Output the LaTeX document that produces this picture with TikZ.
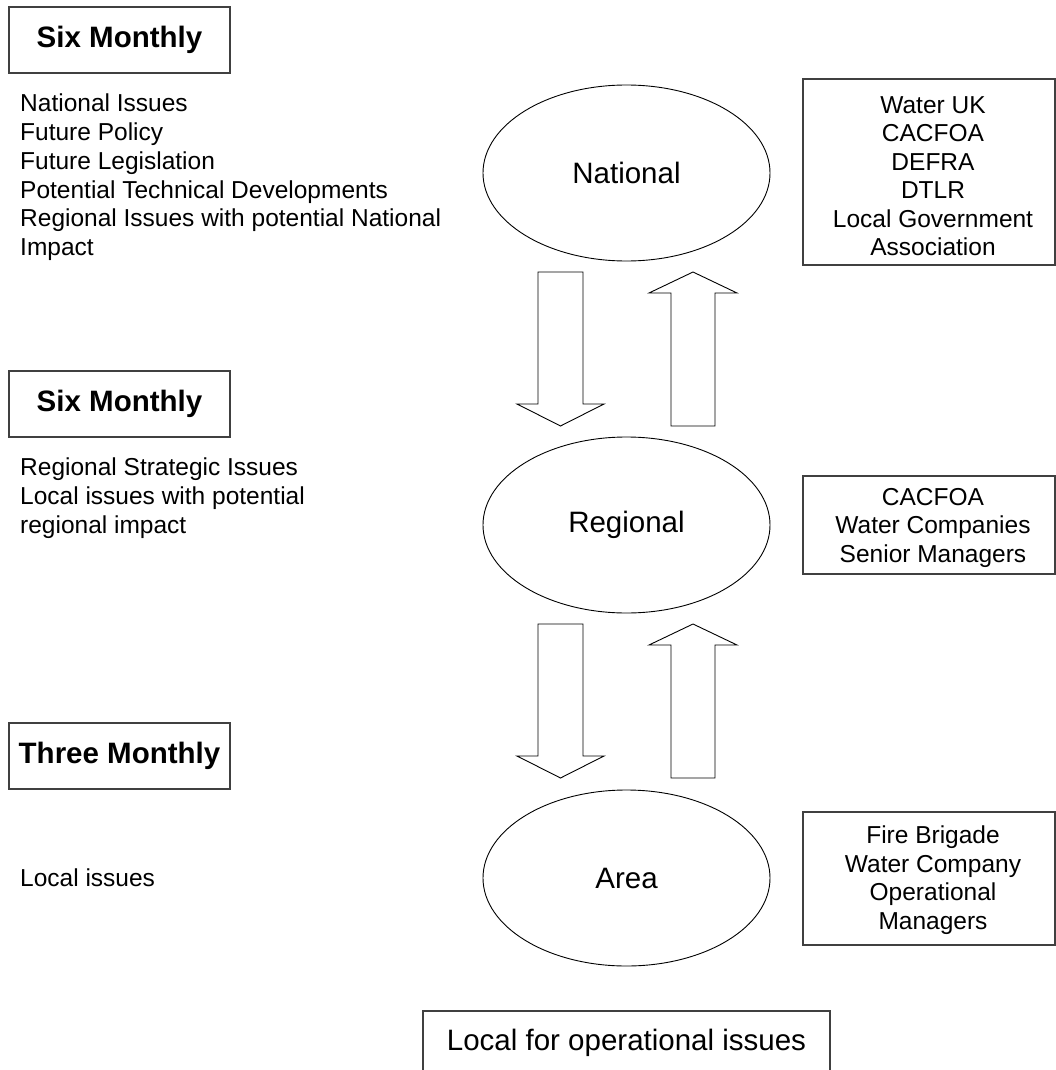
\documentclass[tikz,border=0pt]{standalone}
\usepackage{fontspec}
\setmainfont{Liberation Sans}
\usetikzlibrary{shapes.geometric}
\begin{document}
\begin{tikzpicture}[x=1pt,y=-1pt,
  freqbox/.style={draw=black!75, line width=1.3pt, minimum width=221pt, minimum height=66pt, inner sep=0pt, font=\fontsize{29.5}{34}\selectfont\bfseries},
  listtext/.style={anchor=north west, align=left, inner sep=0pt, font=\fontsize{24.5}{28.7}\selectfont},
  grouptext/.style={anchor=north, align=center, inner sep=0pt, font=\fontsize{24.5}{28.5}\selectfont},
  groupbox/.style={draw=black!75, line width=1.3pt, minimum width=252pt, inner sep=0pt},
  level/.style={ellipse, draw, line width=0.9pt, minimum width=287pt, minimum height=176pt, inner sep=0pt, font=\fontsize{29.5}{34}\selectfont},
  blockarrow/.style={draw, line width=0.9pt, fill=white},
  downarrow/.pic={\draw[blockarrow] (-22.5,0) -- (22.5,0) -- (22.5,132) -- (43.5,132) -- (0,154) -- (-43.5,132) -- (-22.5,132) -- cycle;},
  uparrow/.pic={\draw[blockarrow] (0,0) -- (44,21) -- (22,21) -- (22,154) -- (-22,154) -- (-22,21) -- (-44,21) -- cycle;}
]
\useasboundingbox (0,0) rectangle (1056,1070);

% frequency boxes
\node[freqbox] (f1) at (119.5,40) {Six Monthly};
\node[freqbox] (f2) at (119.5,404) {Six Monthly};
\node[freqbox] (f3) at (119.5,756) {Three Monthly};

% left lists
\node[listtext] (l1) at (20,94) {National Issues\\Future Policy\\Future Legislation\\Potential Technical Developments\\Regional Issues with potential National\\Impact};
\node[listtext] (l2) at (20,458) {Regional Strategic Issues\\Local issues with potential\\regional impact};
\node[listtext] (l3) at (20,869) {Local issues};

% levels
\node[level] (nat) at (626.5,173) {National};
\node[level] (reg) at (626.5,525) {Regional};
\node[level] (area) at (626.5,878) {Area};

% block arrows
\pic at (560.5,272) {downarrow};
\pic at (693,272) {uparrow};
\pic at (560.5,624) {downarrow};
\pic at (693,624) {uparrow};

% right group boxes
\node[groupbox, minimum height=186pt] (g1) at (929,172) {};
\node[grouptext] (t1) at (933,96) {Water UK\\CACFOA\\DEFRA\\DTLR\\Local Government\\Association};
\node[groupbox, minimum height=98pt] (g2) at (929,525) {};
\node[grouptext] (t2) at (933,488) {CACFOA\\Water Companies\\Senior Managers};
\node[groupbox, minimum height=133pt] (g3) at (929,878.5) {};
\node[grouptext] (t3) at (933,826) {Fire Brigade\\Water Company\\Operational\\Managers};

% bottom box
\coordinate (bl) at (423,1075);
\coordinate (br) at (830,1075);
\draw[black!75, line width=1.3pt] (bl) |- (626.5,1011) -| (br);
\node[anchor=base, inner sep=0pt, font=\fontsize{29.5}{34}\selectfont] (local) at (626.5,1050.5) {Local for operational issues};
\end{tikzpicture}
\end{document}
